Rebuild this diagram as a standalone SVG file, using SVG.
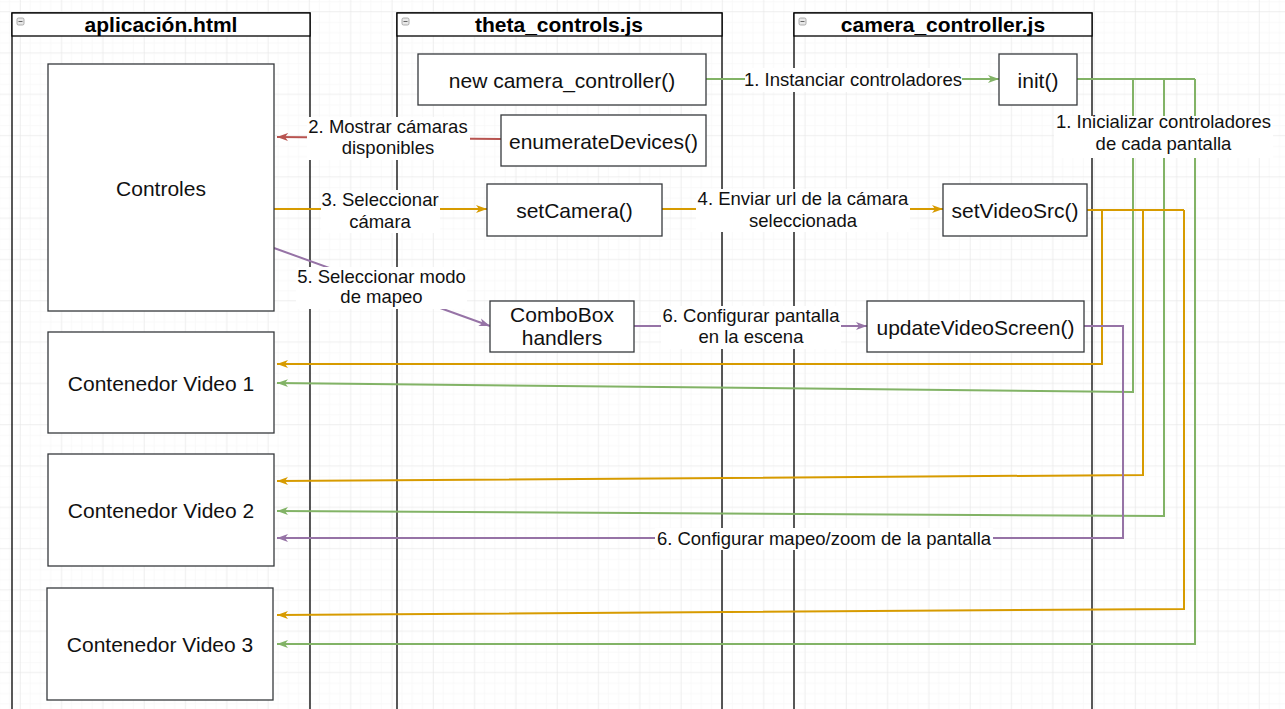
<svg xmlns="http://www.w3.org/2000/svg" width="1285" height="709" viewBox="0 0 1285 709">
<style>
.lane{fill:none;stroke:#000;stroke-width:1.3}
.hdr{fill:#fff;stroke:#000;stroke-width:1.3}
.htxt{font-family:"Liberation Sans",Arial,sans-serif;font-size:21px;font-weight:bold;fill:#000;text-anchor:middle}
.box{fill:#fff;stroke:#36393d;stroke-width:1.3}
.btxt{font-family:"Liberation Sans",Arial,sans-serif;font-size:21px;fill:#111;text-anchor:middle}
.ltxt{font-family:"Liberation Sans",Arial,sans-serif;font-size:18.5px;fill:#111;text-anchor:middle}
.lbg{fill:#fff;stroke:none}
.c{fill:none;stroke-width:2}
.g{stroke:#82b366}.o{stroke:#d79b00}.r{stroke:#b85450}.p{stroke:#9673a6}
</style>
<defs>
<pattern id="minor" width="10.325" height="10.325" patternUnits="userSpaceOnUse" x="20" y="11"><path d="M10.325 0H0V10.325" fill="none" stroke="#f3f3f3" stroke-width="1"/></pattern>
<pattern id="major" width="41.3" height="41.3" patternUnits="userSpaceOnUse" x="20" y="11"><rect width="41.3" height="41.3" fill="url(#minor)"/><path d="M41.3 0H0V41.3" fill="none" stroke="#e6e6e6" stroke-width="1"/></pattern>
<marker id="ag" markerUnits="userSpaceOnUse" markerWidth="12" markerHeight="9" refX="11" refY="4.5" orient="auto" viewBox="0 0 12 9"><path d="M0,0.5L11,4.5L0,8.5L3,4.5Z" fill="#82b366"/></marker>
<marker id="ao" markerUnits="userSpaceOnUse" markerWidth="12" markerHeight="9" refX="11" refY="4.5" orient="auto" viewBox="0 0 12 9"><path d="M0,0.5L11,4.5L0,8.5L3,4.5Z" fill="#d79b00"/></marker>
<marker id="ar" markerUnits="userSpaceOnUse" markerWidth="12" markerHeight="9" refX="11" refY="4.5" orient="auto" viewBox="0 0 12 9"><path d="M0,0.5L11,4.5L0,8.5L3,4.5Z" fill="#b85450"/></marker>
<marker id="ap" markerUnits="userSpaceOnUse" markerWidth="12" markerHeight="9" refX="11" refY="4.5" orient="auto" viewBox="0 0 12 9"><path d="M0,0.5L11,4.5L0,8.5L3,4.5Z" fill="#9673a6"/></marker>
<g id="minus"><rect x="0" y="0" width="7" height="7" rx="1.5" fill="#e8e8e8" stroke="#999" stroke-width="0.8"/><path d="M1.5 3.5H5.5" stroke="#666" stroke-width="1"/></g>
</defs>
<rect width="1285" height="709" fill="#fff"/>
<rect width="1285" height="709" fill="url(#major)"/>

<g id="lane-aplicacion">
<rect class="lane" x="12" y="13" width="298" height="720"/>
<rect class="hdr" x="12" y="13" width="298" height="23"/>
<use href="#minus" x="17" y="18"/>
<text class="htxt" x="161" y="32">aplicación.html</text>
</g>
<g id="lane-theta">
<rect class="lane" x="397" y="13" width="325" height="720"/>
<rect class="hdr" x="397" y="13" width="325" height="23"/>
<use href="#minus" x="402" y="18"/>
<text class="htxt" x="559" y="32">theta_controls.js</text>
</g>
<g id="lane-camera">
<rect class="lane" x="794" y="13" width="298" height="720"/>
<rect class="hdr" x="794" y="13" width="298" height="23"/>
<use href="#minus" x="799" y="18"/>
<text class="htxt" x="943" y="32">camera_controller.js</text>
</g>

<g id="connectors">
<path class="c g" d="M706 79H999" marker-end="url(#ag)"/>
<path class="c r" d="M501 139L277 137" marker-end="url(#ar)"/>
<path class="c o" d="M274 209H487" marker-end="url(#ao)"/>
<path class="c o" d="M662 209H943" marker-end="url(#ao)"/>
<path class="c p" d="M274 248L490 326" marker-end="url(#ap)"/>
<path class="c p" d="M634 326H867" marker-end="url(#ap)"/>
<path class="c g" d="M1077 79H1195"/>
<path class="c g" d="M1133 79V392L277 383" marker-end="url(#ag)"/>
<path class="c g" d="M1164 79V516L277 511" marker-end="url(#ag)"/>
<path class="c g" d="M1195 79V644H277" marker-end="url(#ag)"/>
<path class="c o" d="M1087 210H1184"/>
<path class="c o" d="M1102 210V364H277" marker-end="url(#ao)"/>
<path class="c o" d="M1143 210V475L277 481" marker-end="url(#ao)"/>
<path class="c o" d="M1184 210V609L277 615" marker-end="url(#ao)"/>
<path class="c p" d="M1084 326H1123V538H277" marker-end="url(#ap)"/>

<rect class="lbg" x="745" y="68" width="217" height="24"/>
<text class="ltxt" x="853" y="85.5">1. Instanciar controladores</text>
<rect class="lbg" x="1054" y="116" width="219" height="42"/>
<text class="ltxt" x="1163.5" y="128">1. Inicializar controladores</text>
<text class="ltxt" x="1163.5" y="150">de cada pantalla</text>
<rect class="lbg" x="307" y="117" width="163" height="43"/>
<text class="ltxt" x="388" y="133">2. Mostrar cámaras</text>
<text class="ltxt" x="388" y="154">disponibles</text>
<rect class="lbg" x="321" y="190" width="119" height="43"/>
<text class="ltxt" x="380" y="206">3. Seleccionar</text>
<text class="ltxt" x="380" y="228">cámara</text>
<rect class="lbg" x="696" y="189" width="214" height="43"/>
<text class="ltxt" x="803" y="205">4. Enviar url de la cámara</text>
<text class="ltxt" x="803" y="227">seleccionada</text>
<rect class="lbg" x="296" y="267" width="171" height="42"/>
<text class="ltxt" x="381.5" y="283">5. Seleccionar modo</text>
<text class="ltxt" x="381.5" y="303">de mapeo</text>
<rect class="lbg" x="661" y="306" width="180" height="43"/>
<text class="ltxt" x="751" y="322">6. Configurar pantalla</text>
<text class="ltxt" x="751" y="343">en la escena</text>
<rect class="lbg" x="655" y="528" width="338" height="22"/>
<text class="ltxt" x="824" y="544.5">6. Configurar mapeo/zoom de la pantalla</text>
</g>

<g id="controles"><rect class="box" x="48" y="64" width="226" height="247"/><text class="btxt" x="161" y="196">Controles</text></g>
<g id="video1"><rect class="box" x="48" y="332" width="226" height="101"/><text class="btxt" x="161" y="390.5">Contenedor Video 1</text></g>
<g id="video2"><rect class="box" x="48" y="454" width="226" height="112"/><text class="btxt" x="161" y="518">Contenedor Video 2</text></g>
<g id="video3"><rect class="box" x="47" y="588" width="226" height="112"/><text class="btxt" x="160" y="652">Contenedor Video 3</text></g>
<g id="new-camera-controller"><rect class="box" x="418" y="54" width="288" height="51"/><text class="btxt" x="562" y="87.5">new camera_controller()</text></g>
<g id="enumerate-devices"><rect class="box" x="501" y="115" width="205" height="51"/><text class="btxt" x="603.5" y="148.5">enumerateDevices()</text></g>
<g id="set-camera"><rect class="box" x="487" y="184" width="175" height="52"/><text class="btxt" x="574.5" y="218">setCamera()</text></g>
<g id="combobox-handlers"><rect class="box" x="490" y="301" width="144" height="51"/><text class="btxt" x="562" y="322">ComboBox</text><text class="btxt" x="562" y="345">handlers</text></g>
<g id="init"><rect class="box" x="999" y="54" width="78" height="51"/><text class="btxt" x="1038" y="87.5">init()</text></g>
<g id="set-video-src"><rect class="box" x="943" y="184" width="144" height="52"/><text class="btxt" x="1015" y="218">setVideoSrc()</text></g>
<g id="update-video-screen"><rect class="box" x="867" y="301" width="217" height="51"/><text class="btxt" x="975.5" y="334.5">updateVideoScreen()</text></g>
</svg>
